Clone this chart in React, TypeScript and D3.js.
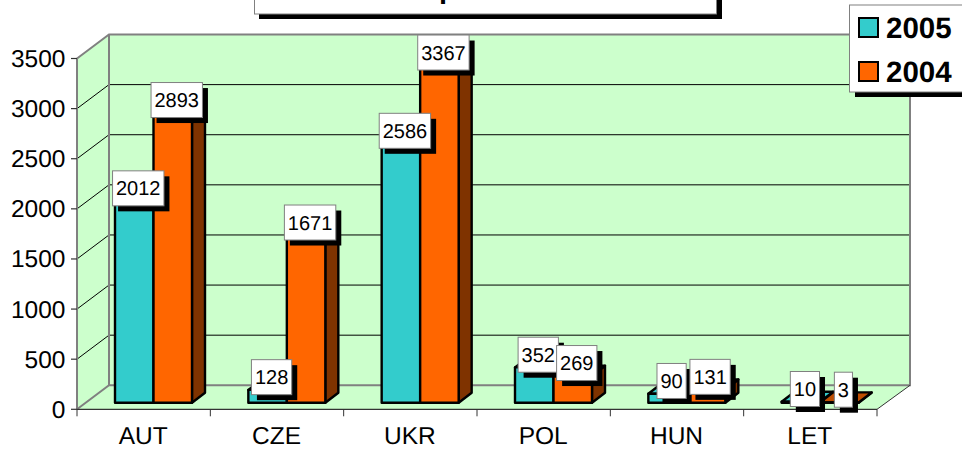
import React from "react";
import * as d3 from "d3";

const categories = ["AUT", "CZE", "UKR", "POL", "HUN", "LET"];
const values2005 = [2012, 128, 2586, 352, 90, 10];
const values2004 = [2893, 1671, 3367, 269, 131, 3];
const yTicks = [0, 500, 1000, 1500, 2000, 2500, 3000, 3500];
const legendItems = ["2005", "2004"];
const titleVisible = "p";

const W = 962, H = 451;
const FONT = "'Liberation Sans', Arial, sans-serif";
const DX = 32, DY = -24;
const BAR_DX = 13, BAR_DY = -10;
const TEAL = "#33CCCC", ORANGE = "#FF6600", BROWN = "#7F3300", WALL = "#CCFFCC", GREY = "#808080";

const x = d3.scaleBand<string>().domain(categories).range([77, 877]);
const y = d3.scaleLinear().domain([0, 3500]).range([409.3, 58.5]);
const barBase = 402.7;
const barH = (v: number) => y(0) - y(v);
const pts = (p: number[][]) => p.map((q) => q.join(",")).join(" ");

function Bar({ x0, w, v, fill, top }: { x0: number; w: number; v: number; fill: string; top: string }) {
  const yt = barBase - barH(v);
  return (
    <g stroke="#000" strokeWidth={2.4} strokeLinejoin="round">
      <polygon points={pts([[x0 + w, yt], [x0 + w + BAR_DX, yt + BAR_DY], [x0 + w + BAR_DX, barBase + BAR_DY], [x0 + w, barBase]])} fill={BROWN} />
      <polygon points={pts([[x0, yt], [x0 + BAR_DX, yt + BAR_DY], [x0 + w + BAR_DX, yt + BAR_DY], [x0 + w, yt]])} fill={top} />
      <rect x={x0} y={yt} width={w} height={barH(v)} fill={fill} />
    </g>
  );
}

function Label({ cx, v }: { cx: number; v: number }) {
  const s = String(v);
  const bw = 7 + s.length * 11.1;
  const yt = barBase - barH(v);
  const cy = yt + BAR_DY / 2 - 7.7;
  return (
    <g>
      <rect x={cx - bw / 2 + 5.5} y={cy - 17.5 + 5.5} width={bw} height={35} fill="#000" />
      <rect x={cx - bw / 2} y={cy - 17.5} width={bw} height={35} fill="#fff" stroke={GREY} strokeWidth={1} />
      <text x={cx} y={cy + 7} textAnchor="middle" fontSize={20} fontFamily={FONT} fill="#000">{s}</text>
    </g>
  );
}

export default function App() {
  const barW = 38.5;
  const off = 38;
  return (
    <svg width={W} height={H} textRendering="geometricPrecision" style={{ position: "absolute", left: 0, top: 0, background: "#fff" }}>
      {/* walls */}
      <polygon points={pts([[77, y(3500)], [77 + DX, y(3500) + DY], [77 + DX, y(0) + DY], [77, y(0)]])} fill={WALL} />
      <rect x={77 + DX} y={y(3500) + DY} width={801} height={350.8} fill={WALL} />
      <polygon points={pts([[77, y(0)], [77 + DX, y(0) + DY], [878 + DX, y(0) + DY], [877, y(0)]])} fill={WALL} />

      {/* gridlines */}
      {yTicks.filter((t) => t > 0 && t < 3500).map((t) => (
        <g key={t} stroke="#000" strokeWidth={1}>
          <line x1={77} y1={y(t)} x2={77 + DX} y2={y(t) + DY} />
          <line x1={77 + DX} y1={y(t) + DY} x2={878 + DX} y2={y(t) + DY} />
        </g>
      ))}

      {/* wall edges */}
      <g stroke={GREY} strokeWidth={2} fill="none">
        <polyline points={pts([[77, y(3500)], [77 + DX, y(3500) + DY], [878 + DX, y(3500) + DY], [878 + DX, y(0) + DY], [77 + DX, y(0) + DY], [77, y(0)]])} />
        <line x1={77 + DX} y1={y(3500) + DY} x2={77 + DX} y2={y(0) + DY} />
        <line x1={77} y1={y(3500)} x2={77} y2={y(0)} />
      </g>

      {/* axes */}
      <g stroke="#333" strokeWidth={1.2}>
        <line x1={77} y1={y(0)} x2={877} y2={y(0)} />
        <line x1={877} y1={y(0)} x2={878 + DX} y2={y(0) + DY} strokeWidth={1} />
        {yTicks.map((t) => <line key={t} x1={71} y1={y(t)} x2={77} y2={y(t)} />)}
        {categories.map((c) => <line key={c} x1={x(c)!} y1={y(0)} x2={x(c)!} y2={y(0) + 7} strokeWidth={1} />)}
        <line x1={877} y1={y(0)} x2={877} y2={y(0) + 7} strokeWidth={1} />
      </g>
      {yTicks.map((t) => (
        <text key={t} x={65.5} y={y(t) + 8.5} textAnchor="end" fontSize={24.5} fontFamily={FONT} fill="#000">{t}</text>
      ))}
      {categories.map((c) => (
        <text key={c} x={x(c)! + x.bandwidth() / 2 - 0.5} y={444} textAnchor="middle" fontSize={24.5} fontFamily={FONT} fill="#000">{c}</text>
      ))}

      {/* bars */}
      {categories.map((c, i) => (
        <g key={c}>
          <Bar x0={x(c)! + off} w={barW} v={values2005[i]} fill={TEAL} top={TEAL} />
          <Bar x0={x(c)! + off + barW} w={barW} v={values2004[i]} fill={ORANGE} top="#BF4D00" />
        </g>
      ))}

      {/* data labels */}
      {categories.map((c, i) => (
        <g key={c}>
          <Label cx={x(c)! + off + barW / 2 + 4} v={values2005[i]} />
          <Label cx={x(c)! + off + barW * 1.5 + 4} v={values2004[i]} />
        </g>
      ))}

      {/* title box, cropped by the top of the picture */}
      <rect x={259} y={-10} width={463} height={29} fill="#000" />
      <rect x={254.5} y={-15} width={462} height={29} fill="#fff" stroke={GREY} strokeWidth={1} />
      <text x={439} y={-2} fontSize={29} fontWeight="bold" fontFamily={FONT} fill="#000">{titleVisible}</text>

      {/* legend */}
      <rect x={855} y={10.5} width={115} height={86.5} fill="#000" />
      <rect x={849.5} y={5} width={120} height={87} fill="#fff" stroke={GREY} strokeWidth={1} />
      {legendItems.map((l, i) => (
        <g key={l}>
          <rect x={859} y={18 + i * 44} width={19} height={19} fill={i === 0 ? TEAL : ORANGE} stroke="#000" strokeWidth={2} />
          <text x={886} y={38 + i * 44} fontSize={29.5} fontWeight="bold" fontFamily={FONT} fill="#000">{l}</text>
        </g>
      ))}
    </svg>
  );
}
